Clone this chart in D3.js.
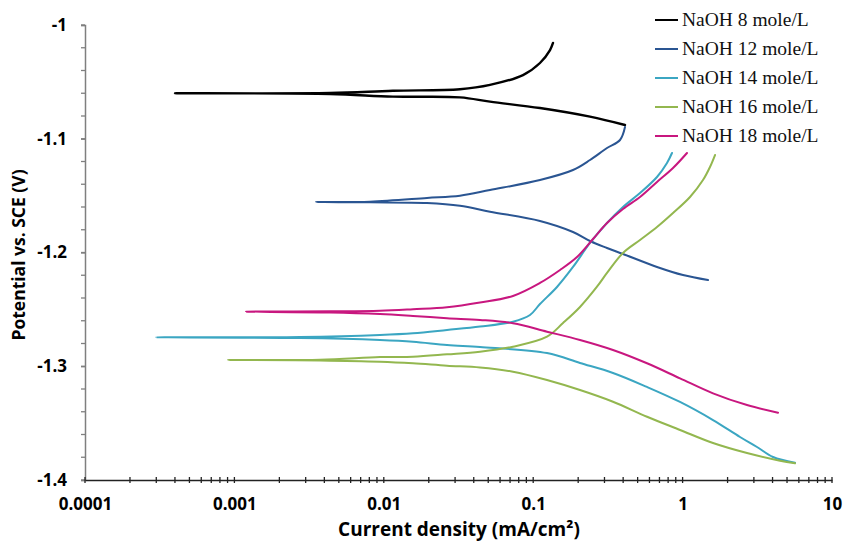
<!DOCTYPE html>
<html>
<head>
<meta charset="utf-8">
<script src="https://cdn.jsdelivr.net/npm/d3@7"></script>
<style>
  body { margin: 0; background: #fff; }
  .tick text { font-family: "Open Sans", sans-serif; font-weight: bold; font-size: 17px; fill: #000; }
</style>
</head>
<body>
<svg id="chart" width="843" height="542"></svg>
<script>
// current density (mA/cm2), potential (V vs SCE), cathodic end -> Ecorr -> anodic end
var naoh8 = [
  [0.4116, -1.0879], [0.2400, -1.0806], [0.1110, -1.0730], [0.05138, -1.0674], [0.03236, -1.0636],
  [0.01152, -1.0630], [0.004364, -1.0607], [0.000400, -1.0600], [0.004364, -1.0598], [0.01152, -1.0578],
  [0.03236, -1.0565], [0.05138, -1.0527], [0.08546, -1.0440], [0.1110, -1.0334], [0.1296, -1.0220],
  [0.1357, -1.0158]
];
var naoh12 = [
  [1.479, -1.2242], [1.006, -1.2198], [0.6740, -1.2127], [0.3990, -1.2013], [0.3119, -1.1960],
  [0.2400, -1.1899], [0.1847, -1.1820], [0.1110, -1.1723], [0.05138, -1.1641], [0.03236, -1.1589],
  [0.01946, -1.1565], [0.008083, -1.1559], [0.003518, -1.1556], [0.008083, -1.1553], [0.01946, -1.1521],
  [0.03236, -1.1501], [0.05138, -1.1451], [0.1110, -1.1363], [0.1847, -1.1275], [0.2400, -1.1187],
  [0.3119, -1.1081], [0.3811, -1.1011], [0.4116, -1.0897]
];
var naoh14 = [
  [5.653, -1.3848], [4.029, -1.3798], [3.148, -1.3710], [2.422, -1.3622], [1.598, -1.3473],
  [0.9607, -1.3314], [0.5778, -1.3182], [0.3420, -1.3059], [0.2057, -1.2971], [0.1237, -1.2884],
  [0.04404, -1.2831], [0.02649, -1.2813], [0.01568, -1.2784], [0.009432, -1.2769], [0.002749, -1.2752],
  [0.000299, -1.2746], [0.002749, -1.2743], [0.009432, -1.2725], [0.01568, -1.2710], [0.02649, -1.2681],
  [0.04404, -1.2651], [0.07322, -1.2608], [0.09519, -1.2549], [0.1110, -1.2453], [0.1443, -1.2303],
  [0.1847, -1.2127], [0.2400, -1.1916], [0.3119, -1.1741], [0.3990, -1.1600], [0.5187, -1.1477],
  [0.6740, -1.1336], [0.7861, -1.1213], [0.8492, -1.1125]
];
var naoh16 = [
  [5.653, -1.3853], [4.487, -1.3830], [2.698, -1.3763], [1.598, -1.3675], [0.9607, -1.3560],
  [0.5778, -1.3444], [0.3420, -1.3312], [0.2057, -1.3209], [0.1237, -1.3121], [0.07322, -1.3048],
  [0.04404, -1.3011], [0.02649, -1.2995], [0.01568, -1.2974], [0.009432, -1.2960], [0.003741, -1.2949],
  [0.000906, -1.2945], [0.003741, -1.2943], [0.009432, -1.2919], [0.01568, -1.2916], [0.02649, -1.2895],
  [0.04404, -1.2872], [0.07322, -1.2828], [0.1237, -1.2740], [0.1583, -1.2620], [0.2057, -1.2479],
  [0.2673, -1.2301], [0.3119, -1.2180], [0.3990, -1.2004], [0.5187, -1.1890], [0.6740, -1.1776],
  [0.8625, -1.1653], [1.121, -1.1512], [1.369, -1.1363], [1.525, -1.1248], [1.648, -1.1143]
];
var naoh18 = [
  [4.351, -1.3408], [2.698, -1.3341], [1.598, -1.3238], [0.9607, -1.3106], [0.5778, -1.2974],
  [0.3420, -1.2857], [0.2057, -1.2769], [0.1237, -1.2696], [0.07322, -1.2622], [0.04404, -1.2593],
  [0.02649, -1.2578], [0.01568, -1.2558], [0.009432, -1.2541], [0.004364, -1.2527], [0.001196, -1.2520],
  [0.004364, -1.2517], [0.009432, -1.2512], [0.01568, -1.2499], [0.02649, -1.2482], [0.04404, -1.2440],
  [0.07322, -1.2382], [0.1110, -1.2268], [0.1512, -1.2154], [0.1964, -1.2040], [0.2514, -1.1881],
  [0.3119, -1.1741], [0.3990, -1.1618], [0.5187, -1.1512], [0.6740, -1.1380], [0.8625, -1.1257],
  [1.070, -1.1125]
];

var seriesNames = ["NaOH 8 mole/L", "NaOH 12 mole/L", "NaOH 14 mole/L", "NaOH 16 mole/L", "NaOH 18 mole/L"];
var seriesData = [naoh8, naoh12, naoh14, naoh16, naoh18];
var seriesColors = ["#000000", "#2a5592", "#3ba6c2", "#93b74f", "#c8177f"];

var xTicks = [0.0001, 0.001, 0.01, 0.1, 1, 10];
var xTickLabels = ["0.0001", "0.001", "0.01", "0.1", "1", "10"];
var yTicks = [-1.4, -1.3, -1.2, -1.1, -1];
var yTickLabels = ["-1.4", "-1.3", "-1.2", "-1.1", "-1"];

function main() {
  var svg = d3.select("#chart");
  var left = 85, right = 832, top = 25, bottom = 480;

  var x = d3.scaleLog().domain([0.0001, 10]).range([left, right]);
  var y = d3.scaleLinear().domain([-1.4, -1]).range([bottom, top]);

  // y axis, minor ticks every 0.02
  var yMinor = d3.range(0, 21).map(function(k) { return -1.4 + k * 0.02; });
  svg.append("g").attr("class", "ymin")
    .selectAll("line").data(yMinor).enter().append("line")
    .attr("x1", left - 4).attr("x2", left)
    .attr("y1", function(d) { return y(d); }).attr("y2", function(d) { return y(d); })
    .attr("stroke", "#7f7f7f").attr("stroke-width", 1.3);

  var yAxis = svg.append("g").attr("transform", "translate(" + left + ",0)")
    .call(d3.axisLeft(y).tickValues(yTicks).tickSize(4).tickPadding(14)
      .tickFormat(function(d, i) { return yTickLabels[i]; }));
  yAxis.select(".domain").attr("stroke", "#7f7f7f").attr("stroke-width", 1.5);
  yAxis.selectAll(".tick line").attr("stroke", "#7f7f7f").attr("stroke-width", 1.3);

  // x axis, ticks crossing the line at 1..9 per decade
  var xMinor = [];
  for (var e = -4; e <= 0; e++) {
    for (var m = 1; m <= 9; m++) xMinor.push(m * Math.pow(10, e));
  }
  xMinor.push(10);

  var xAxis = svg.append("g").attr("transform", "translate(0," + bottom + ")")
    .call(d3.axisBottom(x).tickValues(xTicks).tickSize(0).tickPadding(18)
      .tickFormat(function(d, i) { return xTickLabels[i]; }));
  xAxis.select(".domain").attr("stroke", "#222").attr("stroke-width", 1.5);

  svg.append("g").attr("class", "xmin")
    .selectAll("line").data(xMinor).enter().append("line")
    .attr("x1", function(d) { return x(d); }).attr("x2", function(d) { return x(d); })
    .attr("y1", bottom - 3).attr("y2", bottom + 3)
    .attr("stroke", "#222").attr("stroke-width", 1.3);

  // curves
  var line = d3.line()
    .x(function(d) { return x(d[0]); })
    .y(function(d) { return y(d[1]); })
    .curve(d3.curveCatmullRom.alpha(0.5));

  seriesData.forEach(function(data, i) {
    svg.append("path")
      .datum(data)
      .attr("d", line)
      .attr("fill", "none")
      .attr("stroke", seriesColors[i])
      .attr("stroke-width", i == 0 ? 2.4 : 2)
      .attr("stroke-linejoin", "round")
      .attr("stroke-linecap", "round");
  });

  // axis titles
  svg.append("text")
    .attr("x", 459).attr("y", 536)
    .attr("text-anchor", "middle")
    .style("font-family", "Open Sans, sans-serif").style("font-weight", "bold").style("font-size", "19px")
    .text("Current density (mA/cm²)");

  svg.append("text")
    .attr("transform", "translate(25,255) rotate(-90)")
    .attr("text-anchor", "middle")
    .style("font-family", "Open Sans, sans-serif").style("font-weight", "bold").style("font-size", "17.5px")
    .text("Potential vs. SCE (V)");

  // legend
  var legend = svg.append("g").attr("transform", "translate(655,26)");
  seriesNames.forEach(function(name, i) {
    var row = legend.append("g").attr("transform", "translate(0," + (i * 29) + ")");
    row.append("line")
      .attr("x1", 0).attr("x2", 23).attr("y1", -6).attr("y2", -6)
      .attr("stroke", seriesColors[i]).attr("stroke-width", 2);
    row.append("text")
      .attr("x", 27).attr("y", 0)
      .style("font-family", "Liberation Serif, Times New Roman, serif").style("font-size", "19.5px")
      .attr("fill", "#111")
      .text(name);
  });
}

main();
</script>
</body>
</html>
